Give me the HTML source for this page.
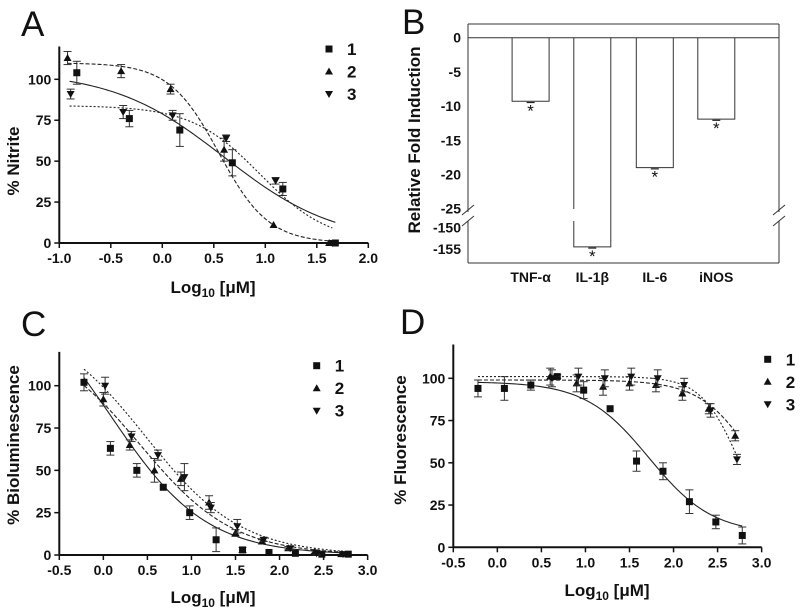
<!DOCTYPE html>
<html><head><meta charset="utf-8"><style>
html,body{margin:0;padding:0;background:#fff;}
svg{display:block;font-family:"Liberation Sans",Arial,sans-serif;}
.t{font-weight:bold;font-size:14px;fill:#111;}
.ti{font-weight:bold;font-size:17px;fill:#111;}
.pl{font-size:35px;fill:#111;}
</style></head><body>
<svg id="fig" width="800" height="611" viewBox="0 0 800 611" xmlns="http://www.w3.org/2000/svg"></svg>
<script>
// ---- Panel A data ----
const aX1=[-0.83,-0.32,0.17,0.68,1.17,1.68], aY1=[104,76,69,49,33,0], aE1=[7,5,10,8,4,0];
const aX2=[-0.92,-0.40,0.08,0.60,1.08,1.62], aY2=[113,105,94,57,11,0], aE2=[4,4,3,7,0,0];
const aX3=[-0.89,-0.38,0.10,0.62,1.10,1.65], aY3=[91,80,78,64,38,0], aE3=[3,4,3,2,2,0];
const aFit1=[105,0,0.60,0.8], aFit2=[110,0,0.55,1.8], aFit3=[84,0,0.95,1.3]; // top,bottom,logEC50,hill
const aXTicks=[-1.0,-0.5,0.0,0.5,1.0,1.5,2.0], aYTicks=[0,25,50,75,100];
// ---- Panel B data ----
const bCats=["TNF-α","IL-1β","IL-6","iNOS"], bVals=[-9.3,-154.5,-19.0,-11.9];
const bYTicksUpper=[0,-5,-10,-15,-20,-25], bYTicksLower=[-150,-155];
// ---- Panel C data ----
const cX1=[-0.22,0.08,0.38,0.68,0.98,1.28,1.58,1.88,2.18,2.48,2.78], cY1=[102,63,50,40,25,9,3,1.5,1,0.5,0.5], cE1=[5,4,4,0,4,7,1.5,0,0,0,0];
const cX2=[0.0,0.30,0.58,0.88,1.20,1.50,1.80,2.10,2.40,2.70], cY2=[92,65,50,45,31,13,8,4,2,0.5], cE2=[4,3,7,4,4,2,1,1,1,0];
const cX3=[0.02,0.32,0.62,0.92,1.22,1.52,1.82,2.12,2.42,2.72], cY3=[100,70,59,46,28,17,9,4,1,0.5], cE3=[5,3,3,8,3,4,1,1,1,0];
const cFit1=[165,0,0.08,0.8], cFit2=[130,0,0.42,0.82], cFit3=[140,0,0.48,0.8];
const cXTicks=[-0.5,0.0,0.5,1.0,1.5,2.0,2.5,3.0], cYTicks=[0,25,50,75,100];
// ---- Panel D data ----
const dX1=[-0.22,0.08,0.38,0.68,0.98,1.28,1.58,1.88,2.18,2.48,2.78], dY1=[94,94,96,101,93,82,51,45,27,15,7], dE1=[5,7,3,1,5,0,6,5,7,4,5];
const dX2=[0.60,0.90,1.20,1.50,1.80,2.10,2.40,2.70], dY2=[101,97,95,97,96,91,82,66], dE2=[5,5,5,4,4,4,3,3];
const dX3=[0.62,0.92,1.22,1.52,1.82,2.12,2.42,2.72], dY3=[100,101,100,101,100,96,81,52], dE3=[5,5,5,5,5,4,4,3];
const dFit1=[98,8,1.72,1.2], dFit2=[99,0,2.95,1.4], dFit3=[101,0,2.75,2.0];
const dXTicks=[-0.5,0.0,0.5,1.0,1.5,2.0,2.5,3.0], dYTicks=[0,25,50,75,100];

const NS="http://www.w3.org/2000/svg", svg=document.getElementById('fig');
function el(tag,attrs,parent,txt){const e=document.createElementNS(NS,tag);for(const k in attrs)e.setAttribute(k,attrs[k]);if(txt!==undefined)e.textContent=txt;(parent||svg).appendChild(e);return e;}
function fourPL(p,x){return p[1]+(p[0]-p[1])/(1+Math.pow(10,(x-p[2])*p[3]));}
function marker(g,type,cx,cy){
  let m;
  if(type===0){m=el('rect',{x:cx-3.5,y:cy-3.5,width:7,height:7,fill:'#111'},g);}
  else if(type===1){m=el('polygon',{points:`${cx},${cy-4} ${cx-4},${cy+3} ${cx+4},${cy+3}`,fill:'#111'},g);}
  else {m=el('polygon',{points:`${cx},${cy+4} ${cx-4},${cy-3} ${cx+4},${cy-3}`,fill:'#111'},g);}
  return m;
}
function fmt(v){return v.toFixed(1);}
function curvePanel(cfg){
  const g=el('g',{});
  
  
  const sx=v=>cfg.x0+(v-cfg.xmin)*cfg.xu, sy=v=>cfg.y0-v*cfg.yu;
  const ax=el('line',{x1:cfg.x0,y1:cfg.y0,x2:sx(cfg.xTicks[cfg.xTicks.length-1]),y2:cfg.y0,stroke:'#111','stroke-width':2},g);
  
  
  const ay=el('line',{x1:cfg.x0,y1:cfg.y0,x2:cfg.x0,y2:sy(120),stroke:'#111','stroke-width':2},g);
  
  
  cfg.xTicks.forEach(t=>{
    el('line',{x1:sx(t),y1:cfg.y0,x2:sx(t),y2:cfg.y0+5,stroke:'#111','stroke-width':1.5},g);
    const tl=el('text',{x:sx(t),y:cfg.y0+20,'text-anchor':'middle',class:'t'},g,fmt(t));
    
    
  });
  cfg.yTicks.forEach(t=>{
    el('line',{x1:cfg.x0-5,y1:sy(t),x2:cfg.x0,y2:sy(t),stroke:'#111','stroke-width':1.5},g);
    const tl=el('text',{x:cfg.x0-8,y:sy(t)+5,'text-anchor':'end',class:'t'},g,String(t));
    
    
  });
  const dashes=['none','4,2','2,2'];
  cfg.series.forEach((s,i)=>{
    let d='';const xa=s.x[0]<cfg.curveStart?s.x[0]:cfg.curveStart, xb=s.x[s.x.length-1];
    for(let k=0;k<=120;k++){const xv=xa+(xb-xa)*k/120;d+=(k?'L':'M')+sx(xv).toFixed(2)+','+sy(fourPL(s.fit,xv)).toFixed(2);}
    const p=el('path',{d:d,fill:'none',stroke:'#222','stroke-width':1.1,'stroke-dasharray':dashes[i]},g);
    
    
    s.x.forEach((xv,j)=>{
      const cx=sx(xv),cy=sy(s.y[j]),e=s.e[j]*cfg.yu;
      if(e>0){
        el('line',{x1:cx,y1:cy-e,x2:cx,y2:cy+e,stroke:'#333','stroke-width':1},g);
        el('line',{x1:cx-4,y1:cy-e,x2:cx+4,y2:cy-e,stroke:'#333','stroke-width':1},g);
        el('line',{x1:cx-4,y1:cy+e,x2:cx+4,y2:cy+e,stroke:'#333','stroke-width':1},g);
      }
      const m=marker(g,i,cx,cy);
      
      
    });
    const lm=marker(g,i,cfg.lx,cfg.ly+i*22.5);
    
    
    const lt=el('text',{x:cfg.lx+18,y:cfg.ly+i*22.5+6,class:'ti'},g,String(i+1));
    
    
  });
  const xt=el('text',{x:cfg.xtX,y:cfg.xtY,'text-anchor':'middle',class:'ti'},g);
  xt.innerHTML='Log<tspan font-size="12" dy="4">10</tspan><tspan dy="-4"> [μM]</tspan>';
  
  
  const yt=el('text',{x:0,y:0,'text-anchor':'middle',class:'ti',transform:`translate(${cfg.ytX},${cfg.ytY}) rotate(-90)`},g,cfg.ytitle);
  
  
  const pl=el('text',{x:cfg.plX,y:cfg.plY,class:'pl'},g,cfg.letter);
  
  
}
curvePanel({name:'panel-a-nitrite',letter:'A',plX:21,plY:36,x0:59.3,y0:243,xmin:-1.0,xu:103,yu:163.7/100,curveStart:-0.9,
  xTicks:aXTicks,yTicks:aYTicks,lx:329,ly:49,xtX:213,xtY:293,ytX:19,ytY:161,ytitle:'% Nitrite',
  series:[{x:aX1,y:aY1,e:aE1,fit:aFit1},{x:aX2,y:aY2,e:aE2,fit:aFit2},{x:aX3,y:aY3,e:aE3,fit:aFit3}]});
curvePanel({name:'panel-c-bioluminescence',letter:'C',plX:21,plY:336,x0:59.3,y0:555,xmin:-0.5,xu:88.1,yu:169.3/100,curveStart:-0.22,
  xTicks:cXTicks,yTicks:cYTicks,lx:316.7,ly:365.7,xtX:213,xtY:603,ytX:19,ytY:445,ytitle:'% Bioluminescence',
  series:[{x:cX1,y:cY1,e:cE1,fit:cFit1},{x:cX2,y:cY2,e:cE2,fit:cFit2},{x:cX3,y:cY3,e:cE3,fit:cFit3}]});
curvePanel({name:'panel-d-fluorescence',letter:'D',plX:400,plY:334,x0:453.3,y0:547.3,xmin:-0.5,xu:88.1,yu:169/100,curveStart:-0.22,
  xTicks:dXTicks,yTicks:dYTicks,lx:767.7,ly:359.3,xtX:607,xtY:596,ytX:406,ytY:440,ytitle:'% Fluorescence',
  series:[{x:dX1,y:dY1,e:dE1,fit:dFit1},{x:dX2,y:dY2,e:dE2,fit:dFit2},{x:dX3,y:dY3,e:dE3,fit:dFit3}]});

// ---- Panel B ----
(function(){
  const g=el('g',{});
  
  
  const L=468,R=779,T=24,B=263,y0=37.7,uu=34.2/5,lowTop=227.7,lu=21.3/5,brk1=212,brk2=221;
  const syU=v=>y0-v*uu, syL=v=>lowTop-(v+150)*lu;
  const sy=v=>v>=-27?syU(v):syL(v);
  const bw=37, centers=[530.6,592.3,654.8,716.3];
  el('line',{x1:L,y1:T,x2:R,y2:T,stroke:'#333','stroke-width':1},g);
  el('line',{x1:L,y1:B,x2:R,y2:B,stroke:'#333','stroke-width':1},g);
  [L,R].forEach(x=>{
    el('line',{x1:x,y1:T,x2:x,y2:brk1,stroke:'#333','stroke-width':1},g);
    el('line',{x1:x,y1:brk2,x2:x,y2:B,stroke:'#333','stroke-width':1},g);
    el('line',{x1:x-6,y1:brk1+3,x2:x+6,y2:brk1-7,stroke:'#333','stroke-width':1},g);
    el('line',{x1:x-6,y1:brk2+5,x2:x+6,y2:brk2-5,stroke:'#333','stroke-width':1},g);
  });
  const zl=el('line',{x1:L,y1:y0,x2:R,y2:y0,stroke:'#333','stroke-width':1},g);
  
  
  bYTicksUpper.forEach(t=>{
    const tl=el('text',{x:461,y:syU(t)+5,'text-anchor':'end',class:'t'},g,String(t));
    
    
  });
  bYTicksLower.forEach(t=>{
    const tl=el('text',{x:461,y:syL(t)+5,'text-anchor':'end',class:'t'},g,String(t));
    
    
  });
  bCats.forEach((c,i)=>{
    const cx=centers[i],yb=sy(bVals[i]);
    const x1=cx-bw/2,x2=cx+bw/2;
    let d;
    if(bVals[i]<-27){
      d=`M${x1},${y0}L${x1},${brk1-3}M${x1},${brk2}L${x1},${yb}L${x2},${yb}L${x2},${y0}`;
    } else d=`M${x1},${y0}L${x1},${yb}L${x2},${yb}L${x2},${y0}`;
    const bar=el('path',{d:d,fill:'none',stroke:'#333','stroke-width':1},g);
    
    
    el('line',{x1:cx-4,y1:yb+1.2,x2:cx+4,y2:yb+1.2,stroke:'#222','stroke-width':1.2},g);
    const st=el('text',{x:cx,y:yb+15,'text-anchor':'middle','font-size':'17',fill:'#111'},g,'*');
    
    
    const cl=el('text',{x:cx,y:282,'text-anchor':'middle',class:'t'},g,c);
    
    
  });
  const yt=el('text',{x:0,y:0,'text-anchor':'middle',class:'ti',transform:'translate(420,140) rotate(-90)'},g,'Relative Fold Induction');
  
  
  const pl=el('text',{x:402,y:34,class:'pl'},g,'B');
  
  
})();
</script>
</body></html>
